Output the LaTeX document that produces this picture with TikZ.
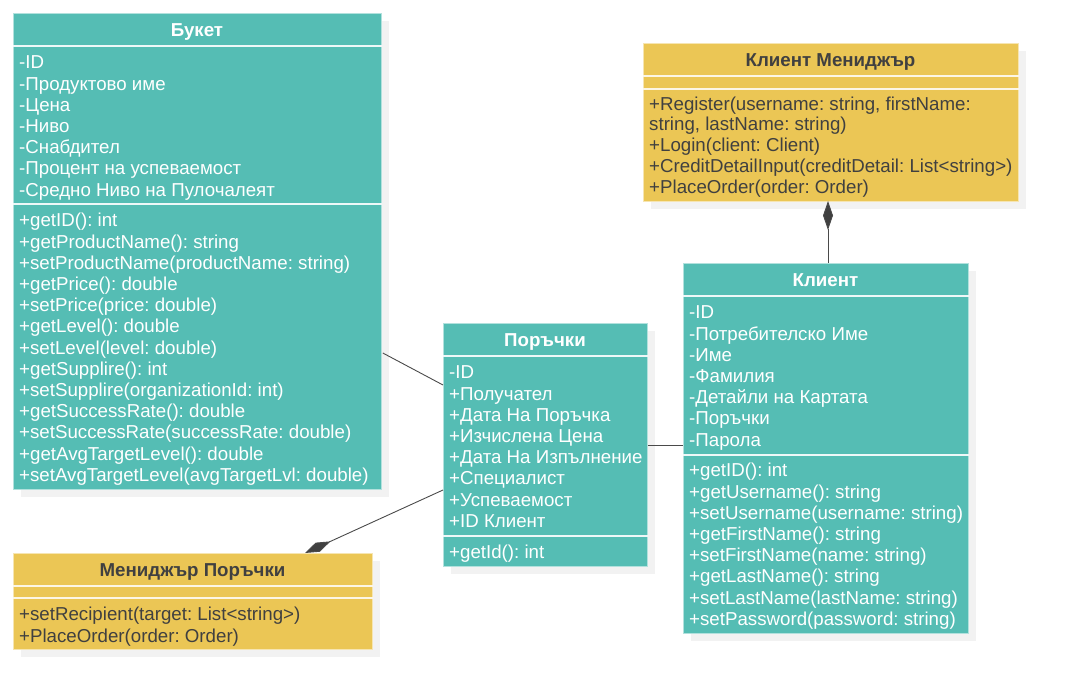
\documentclass[tikz,border=0pt]{standalone}
\usepackage{fontspec}
\setmainfont{Liberation Sans}
\usetikzlibrary{calc,arrows.meta,shadows}
\definecolor{tealc}{HTML}{55BDB4}
\definecolor{yelc}{HTML}{EBC655}
\definecolor{darktxt}{HTML}{404040}
\definecolor{linec}{HTML}{4A4A4A}
\definecolor{shadowc}{HTML}{F2F2F2}
\tikzset{
  cls/.style={draw=white!55!#1, fill=#1, line width=0.8pt, inner sep=0pt, anchor=north west,
    drop shadow={shadow xshift=8pt, shadow yshift=-8pt, fill=shadowc, opacity=1}},
  sep/.style={draw=white!90!tealc, line width=2pt},
  sepy/.style={draw=white!85!yelc, line width=2pt},
  lines/.style={anchor=north west, inner sep=0pt, align=left, font=\fontsize{18.7}{21.2}\selectfont\frenchspacing, text=#1},
  head/.style={anchor=base, inner sep=0pt, font=\fontsize{18.7}{21.2}\selectfont\bfseries, text=#1},
  conn/.style={draw=linec, line width=0.9pt},
}
\begin{document}
\begin{tikzpicture}[x=1pt,y=-1pt]
\useasboundingbox[fill=white] (0,0) rectangle (1067,700);

% ---------- Букет ----------
\node[cls=tealc, minimum width=368pt, minimum height=476pt] (buket) at (13,13) {};
\draw[sep] ($(buket.north west)+(0,33)$) -- ($(buket.north east)+(0,33)$);
\draw[sep] ($(buket.north west)+(0,191)$) -- ($(buket.north east)+(0,191)$);
\node[head=white] (buketH) at (197,36.6) {Букет};
\node[lines=white] (buketA) at (19,53.8) {\strut-ID\\-Продуктово име\\-Цена\\-Ниво\\-Снабдител\\-Процент на успеваемост\\-Средно Ниво на Пулочалеят};
\node[lines=white] (buketM) at (19,211.9) {\strut+getID(): int\\+getProductName(): string\\+setProductName(productName: string)\\+getPrice(): double\\+setPrice(price: double)\\+getLevel(): double\\+setLevel(level: double)\\+getSupplire(): int\\+setSupplire(organizationId: int)\\+getSuccessRate(): double\\+setSuccessRate(successRate: double)\\+getAvgTargetLevel(): double\\+setAvgTargetLevel(avgTargetLvl: double)};

% ---------- Мениджър Поръчки ----------
\node[cls=yelc, minimum width=359pt, minimum height=96pt] (mpor) at (13,553) {};
\draw[sepy] ($(mpor.north west)+(0,33)$) -- ($(mpor.north east)+(0,33)$);
\draw[sepy] ($(mpor.north west)+(0,45)$) -- ($(mpor.north east)+(0,45)$);
\node[head=darktxt] (mporH) at (192.5,576.6) {Мениджър Поръчки};
\node[lines=darktxt] (mporM) at (19,605.9) {\strut+setRecipient(target: List<string>)\\+PlaceOrder(order: Order)};

% ---------- Поръчки ----------
\node[cls=tealc, minimum width=204pt, minimum height=243pt] (por) at (443,323) {};
\draw[sep] ($(por.north west)+(0,33)$) -- ($(por.north east)+(0,33)$);
\draw[sep] ($(por.north west)+(0,213)$) -- ($(por.north east)+(0,213)$);
\node[head=white] (porH) at (545,346.6) {Поръчки};
\node[lines=white] (porA) at (449,363.9) {\strut-ID\\+Получател\\+Дата На Поръчка\\+Изчислена Цена\\+Дата На Изпълнение\\+Специалист\\+Успеваемост\\+ID Клиент};
\node[lines=white] (porM) at (449,543.9) {\strut+getId(): int};

% ---------- Клиент Мениджър ----------
\node[cls=yelc, minimum width=375pt, minimum height=158pt] (kman) at (643,43) {};
\draw[sepy] ($(kman.north west)+(0,33)$) -- ($(kman.north east)+(0,33)$);
\draw[sepy] ($(kman.north west)+(0,46)$) -- ($(kman.north east)+(0,46)$);
\node[head=darktxt] (kmanH) at (830.5,66.6) {Клиент Мениджър};
\node[lines=darktxt] (kmanM) at (649,95.9) {\strut+Register(username: string, firstName:\\[-2pt]string, lastName: string)\\+Login(client: Client)\\+CreditDetailInput(creditDetail: List<string>)\\+PlaceOrder(order: Order)};

% ---------- Клиент ----------
\node[cls=tealc, minimum width=285pt, minimum height=370pt] (kl) at (683,263) {};
\draw[sep] ($(kl.north west)+(0,33)$) -- ($(kl.north east)+(0,33)$);
\draw[sep] ($(kl.north west)+(0,192)$) -- ($(kl.north east)+(0,192)$);
\node[head=white] (klH) at (825.5,286.6) {Клиент};
\node[lines=white] (klA) at (689,303.9) {\strut-ID\\-Потребителско Име\\-Име\\-Фамилия\\-Детайли на Картата\\-Поръчки\\-Парола};
\node[lines=white] (klM) at (689,461.9) {\strut+getID(): int\\+getUsername(): string\\+setUsername(username: string)\\+getFirstName(): string\\+setFirstName(name: string)\\+getLastName(): string\\+setLastName(lastName: string)\\+setPassword(password: string)};

% ---------- Connectors ----------
\draw[conn] ($(buket.north east)+(1,340)$) -- ($(por.north west)+(0,62)$);
\draw[conn] ($(por.north east)+(0,122)$) -- ($(kl.north west)+(0,182)$);
\draw[conn, -{Diamond[length=28pt,width=10pt,fill=darktxt]}] ($(por.north west)+(0,167)$) -- ($(mpor.north west)+(292,0)$);
\draw[conn, -{Diamond[length=29pt,width=10pt,fill=darktxt]}] ($(kl.north west)+(145,0)$) -- ($(kman.north west)+(185,158)$);
\end{tikzpicture}
\end{document}
